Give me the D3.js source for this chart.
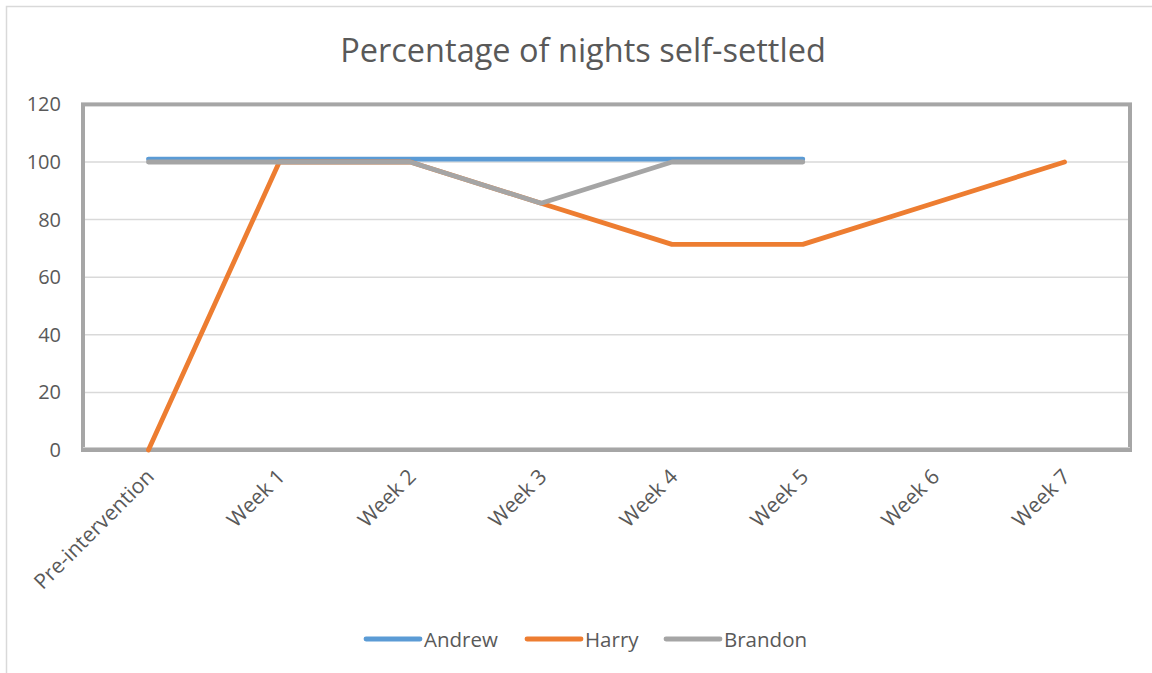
<!DOCTYPE html>
<html>
<head>
<meta charset="utf-8">
<script src="https://cdn.jsdelivr.net/npm/d3@7"></script>
<style>
  html, body { margin: 0; padding: 0; background: #fff; }
  svg { display: block; }
  text { font-family: "Open Sans", "Noto Sans", sans-serif; fill: #595959; }
</style>
</head>
<body>
<svg id="chart" width="1152" height="673"></svg>
<script>
// Weekly share of nights each child settled on their own
const categories = ["Pre-intervention", "Week 1", "Week 2", "Week 3", "Week 4", "Week 5", "Week 6", "Week 7"];
const andrew  = [101, 101, 101, 101, 101, 101, null, null];
const harry   = [0, 100, 100, 85.7, 71.4, 71.4, 85.7, 100];
const brandon = [100, 100, 100, 85.7, 100, 100, null, null];
const yTicks  = [0, 20, 40, 60, 80, 100, 120];
const seriesNames  = ["Andrew", "Harry", "Brandon"];
const seriesColors = ["#5b9bd5", "#ed7d31", "#a5a5a5"];

const svg = d3.select("#chart");
const plot = { left: 83, right: 1130, top: 104.4, bottom: 450 };

// Outer chart frame (top and left edges only show inside the page)
svg.append("rect")
  .attr("x", 6.5).attr("y", 6.5)
  .attr("width", 1200).attr("height", 700)
  .attr("fill", "#fff").attr("stroke", "#d9d9d9").attr("stroke-width", 1.5);

const x = d3.scaleBand().domain(categories).range([plot.left, plot.right]);
const y = d3.scaleLinear().domain([0, 120]).range([plot.bottom, plot.top]);

// Title
svg.append("text")
  .attr("x", 583).attr("y", 62)
  .attr("text-anchor", "middle")
  .style("font-size", "32.5px")
  .text("Percentage of nights self-settled");

// Horizontal gridlines
svg.append("g").selectAll("line")
  .data(yTicks.filter(t => t > 0 && t < 120))
  .join("line")
  .attr("x1", plot.left).attr("x2", plot.right)
  .attr("y1", d => y(d)).attr("y2", d => y(d))
  .attr("stroke", "#d9d9d9").attr("stroke-width", 1.5);

// Y axis labels
const yAxis = d3.axisLeft(y).tickValues(yTicks).tickSize(0).tickPadding(0);
const gy = svg.append("g").attr("transform", `translate(${plot.left - 22},0)`).call(yAxis);
gy.select(".domain").remove();
gy.selectAll("text")
  .style("font-size", "20px")
  .style("font-family", "\"Open Sans\", sans-serif")
  .attr("fill", "#595959");

// Category axis: baseline plus rotated labels
const xAxis = d3.axisBottom(x).tickSize(0).tickPadding(0);
const gx = svg.append("g").attr("transform", `translate(0,${plot.bottom})`).call(xAxis);
gx.select(".domain").attr("stroke", "#bfbfbf").attr("stroke-width", 1.5);
gx.selectAll("text")
  .style("font-size", "21px")
  .style("font-family", "\"Open Sans\", sans-serif")
  .attr("fill", "#595959")
  .attr("text-anchor", "end")
  .attr("dy", null)
  .attr("y", 0)
  .attr("transform", "translate(7,28) rotate(-45)");

// Plot-area frame
svg.append("rect")
  .attr("x", plot.left).attr("y", plot.top)
  .attr("width", plot.right - plot.left).attr("height", plot.bottom - plot.top)
  .attr("fill", "none").attr("stroke", "#a6a6a6").attr("stroke-width", 4);
svg.append("line")
  .attr("x1", plot.left).attr("x2", plot.right)
  .attr("y1", plot.bottom - 2.5).attr("y2", plot.bottom - 2.5)
  .attr("stroke", "#d0d0d0").attr("stroke-width", 1);

// Series lines
const line = d3.line()
  .defined(d => d.v !== null)
  .x(d => x(d.c) + x.bandwidth() / 2)
  .y(d => y(d.v));

const allSeries = [andrew, harry, brandon];
allSeries.forEach((vals, i) => {
  const pts = vals.map((v, j) => ({ c: categories[j], v }));
  svg.append("path")
    .datum(pts)
    .attr("d", line)
    .attr("fill", "none")
    .attr("stroke", seriesColors[i])
    .attr("stroke-width", 4.8)
    .attr("stroke-linecap", "round")
    .attr("stroke-linejoin", "round");
});

// Legend
const legendItems = [
  { name: seriesNames[0], color: seriesColors[0], x: 366 },
  { name: seriesNames[1], color: seriesColors[1], x: 527 },
  { name: seriesNames[2], color: seriesColors[2], x: 666 }
];
const lg = svg.append("g").selectAll("g").data(legendItems).join("g")
  .attr("transform", d => `translate(${d.x},639)`);
lg.append("line")
  .attr("x1", 0).attr("x2", 54)
  .attr("stroke", d => d.color).attr("stroke-width", 4.8)
  .attr("stroke-linecap", "round");
lg.append("text")
  .attr("x", 58).attr("y", 7.5)
  .style("font-size", "20.5px")
  .text(d => d.name);
</script>
</body>
</html>
